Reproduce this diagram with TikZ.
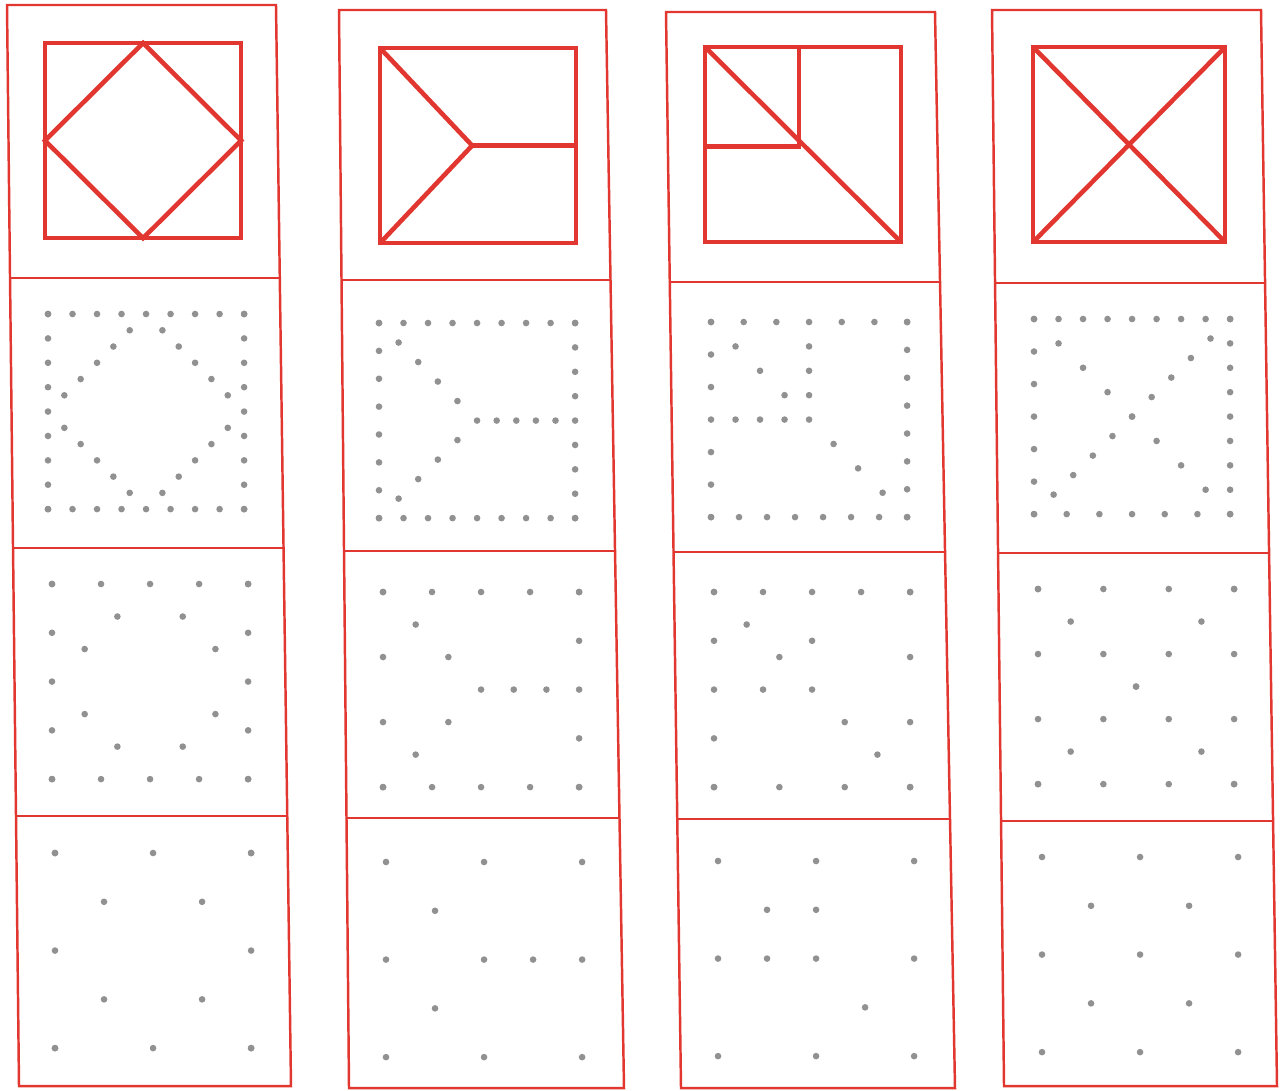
\documentclass[tikz,border=0pt]{standalone}
\usepackage{xcolor}
\usepackage{tikz}
\usetikzlibrary{calc}
\definecolor{sheetred}{RGB}{225, 55, 48}
\definecolor{dotgrey}{RGB}{145, 145, 145}
\def\gdot(#1){\fill[dotgrey] (#1) circle (0.033cm);}

\begin{document}
\begin{tikzpicture}[x=0.01cm, y=-0.01cm,
    cellframe/.style={draw=sheetred, line width=0.7pt},
    figline/.style={draw=sheetred, line width=1.3pt},
    sq/.style n args={3}{shift={(#1,#2)}, x=1.96cm/#3, y=-1.95cm/#3}]
  \useasboundingbox (0,0) rectangle (1285,1090);
  \fill[white] (0,0) rectangle (1285,1090);

  % strips
  \draw[cellframe] (7,5) -- (276,5) -- (291,1086) -- (19,1086) -- cycle;
  \draw[cellframe] (10,278) -- (280,278);
  \draw[cellframe] (13,548) -- (283,548);
  \draw[cellframe] (16,816) -- (287,816);
  \draw[cellframe] (339,10) -- (606,10) -- (624,1088) -- (349,1088) -- cycle;
  \draw[cellframe] (341,280) -- (611,280);
  \draw[cellframe] (344,551) -- (615,551);
  \draw[cellframe] (346,818) -- (620,818);
  \draw[cellframe] (666,12) -- (935,12) -- (955,1088) -- (681,1088) -- cycle;
  \draw[cellframe] (670,282) -- (940,282);
  \draw[cellframe] (674,552) -- (945,552);
  \draw[cellframe] (677,819) -- (950,819);
  \draw[cellframe] (992,10) -- (1261,10) -- (1277,1086) -- (1004,1086) -- cycle;
  \draw[cellframe] (995,283) -- (1265,283);
  \draw[cellframe] (998,553) -- (1269,553);
  \draw[cellframe] (1001,821) -- (1273,821);

  % models
  \begin{scope}[sq={45}{43}{1}]
    \draw[figline] (0,0) rectangle (1,1);
    \draw[figline] (0.5,0) -- (1,0.5) -- (0.5,1) -- (0,0.5) -- cycle;
  \end{scope}
  \begin{scope}[sq={380}{48}{1}]
    \draw[figline] (0,0) rectangle (1,1);
    \draw[figline] (0,0) -- (0.47,0.5) -- (0,1);
    \draw[figline] (0.47,0.5) -- (1,0.5);
  \end{scope}
  \begin{scope}[sq={705}{47}{1}]
    \draw[figline] (0,0) rectangle (1,1);
    \draw[figline] (0.48,0) -- (0.48,0.51) -- (0,0.51);
    \draw[figline] (0,0) -- (1,1);
  \end{scope}
  \begin{scope}[sq={1033}{47}{1}]
    \draw[figline] (0,0) rectangle (0.98,1);
    \draw[figline] (0,0) -- (0.98,1);
    \draw[figline] (0.98,0) -- (0,1);
  \end{scope}

  % column 1
  \begin{scope}[sq={48}{314}{8}]
    \foreach \i in {0,...,8} {\gdot(\i,0) \gdot(\i,8) \gdot(0,\i) \gdot(8,\i)}
    \foreach \k in {1,...,5} {\gdot(4-\k*2/3,\k*2/3) \gdot(4+\k*2/3,\k*2/3) \gdot(\k*2/3,4+\k*2/3) \gdot(8-\k*2/3,4+\k*2/3)}
  \end{scope}
  \begin{scope}[sq={52}{584}{4}]
    \foreach \i in {0,...,4} {\gdot(\i,0) \gdot(\i,4) \gdot(0,\i) \gdot(4,\i)}
    \foreach \k in {1,2} {\gdot(2-\k*2/3,\k*2/3) \gdot(2+\k*2/3,\k*2/3) \gdot(\k*2/3,2+\k*2/3) \gdot(4-\k*2/3,2+\k*2/3)}
  \end{scope}
  \begin{scope}[sq={55}{853}{2}]
    \foreach \i in {0,1,2} {\gdot(\i,0) \gdot(\i,2) \gdot(0,\i) \gdot(2,\i)}
    \foreach \a/\b in {0.5/0.5,1.5/0.5,0.5/1.5,1.5/1.5} {\gdot(\a,\b)}
  \end{scope}

  % column 2
  \begin{scope}[sq={379}{323}{8}]
    \foreach \i in {0,...,8} {\gdot(\i,0) \gdot(\i,8) \gdot(8,\i)}
    \foreach \j in {0,...,7} {\gdot(0,\j*8/7)}
    \foreach \k in {1,...,4} {\gdot(0.8*\k,0.8*\k) \gdot(4-0.8*\k,4+0.8*\k)}
    \foreach \k in {0,...,4} {\gdot(4+0.8*\k,4)}
  \end{scope}
  \begin{scope}[sq={383}{592}{4}]
    \foreach \i in {0,...,4} {\gdot(\i,0) \gdot(\i,4) \gdot(4,\i)}
    \foreach \j in {0,...,3} {\gdot(0,\j*4/3)}
    \foreach \k in {1,2} {\gdot(\k*2/3,\k*2/3) \gdot(2-\k*2/3,2+\k*2/3) \gdot(2+\k*2/3,2)}
    \gdot(2,2)
  \end{scope}
  \begin{scope}[sq={386}{862}{2}]
    \foreach \a/\b in {0/0,1/0,2/0,0.5/0.5,0/1,1/1,1.5/1,2/1,0.5/1.5,0/2,1/2,2/2} {\gdot(\a,\b)}
  \end{scope}

  % column 3
  \begin{scope}[sq={711}{322}{6}]
    \foreach \i in {0,...,6} {\gdot(\i,0) \gdot(0,\i)}
    \foreach \j in {0,...,7} {\gdot(6,\j*6/7) \gdot(\j*6/7,6)}
    \foreach \k in {1,...,7} {\gdot(0.75*\k,0.75*\k)}
    \foreach \k in {1,2,3} {\gdot(3,0.75*\k) \gdot(0.75*\k,3)}
  \end{scope}
  \begin{scope}[sq={714}{592}{4}]
    \foreach \i in {0,...,4} {\gdot(\i,0) \gdot(0,\i)}
    \foreach \j in {0,...,3} {\gdot(4,\j*4/3) \gdot(\j*4/3,4)}
    \foreach \k in {1,...,5} {\gdot(\k*2/3,\k*2/3)}
    \gdot(2,1) \gdot(1,2)
  \end{scope}
  \begin{scope}[sq={718}{861}{2}]
    \foreach \a/\b in {0/0,1/0,2/0,0.5/0.5,1/0.5,0/1,0.5/1,1/1,2/1,1.5/1.5,0/2,1/2,2/2} {\gdot(\a,\b)}
  \end{scope}

  % column 4
  \begin{scope}[sq={1034}{319}{8}]
    \foreach \i in {0,...,8} {\gdot(\i,0) \gdot(8,\i)}
    \foreach \j in {0,...,6} {\gdot(0,\j*8/6) \gdot(\j*8/6,8)}
    \foreach \k in {1,...,7} {\gdot(\k,\k)}
    \foreach \k in {1,...,9} {\gdot(8-0.8*\k,0.8*\k)}
  \end{scope}
  \begin{scope}[sq={1038}{589}{3}]
    \foreach \i in {0,...,3} {\gdot(\i,0) \gdot(\i,3) \gdot(0,\i) \gdot(3,\i)}
    \foreach \k in {1,...,5} {\gdot(0.5*\k,0.5*\k) \gdot(3-0.5*\k,0.5*\k)}
  \end{scope}
  \begin{scope}[sq={1042}{857}{2}]
    \foreach \i in {0,1,2} {\foreach \j in {0,1,2} {\gdot(\i,\j)}}
    \foreach \a/\b in {0.5/0.5,1.5/0.5,0.5/1.5,1.5/1.5} {\gdot(\a,\b)}
  \end{scope}
\end{tikzpicture}
\end{document}
